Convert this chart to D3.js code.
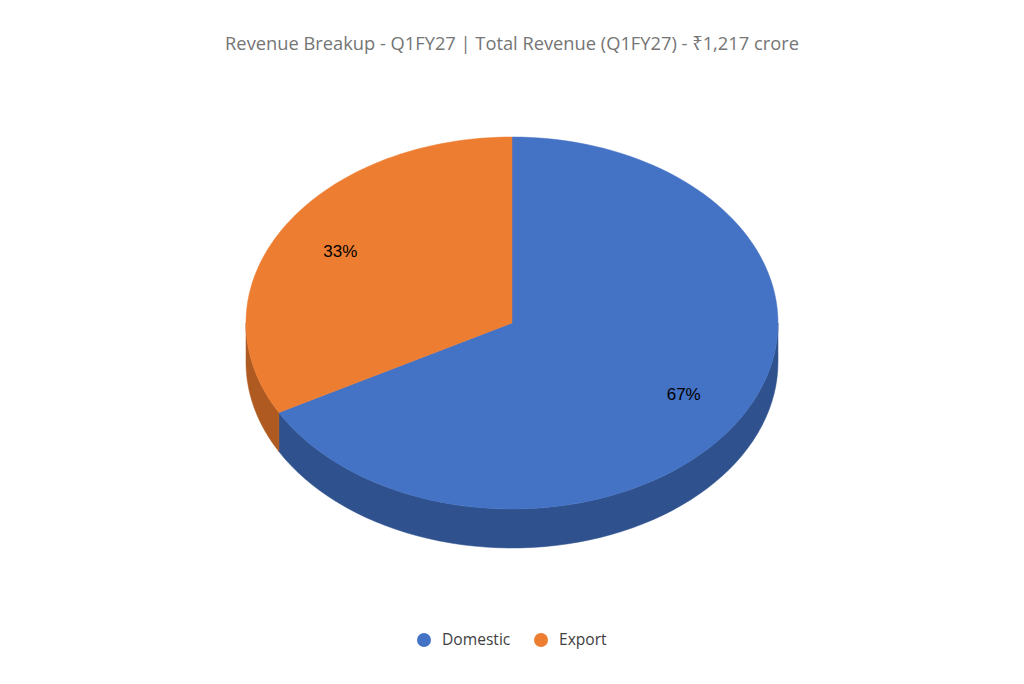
<!DOCTYPE html>
<html>
<head>
<meta charset="utf-8">
<script src="https://cdn.jsdelivr.net/npm/d3@7"></script>
<style>
  body { margin: 0; background: #fff; }
  svg { display: block; }
</style>
</head>
<body>
<svg id="chart" width="1024" height="684"></svg>
<script>
// data
const categories = ['Domestic', 'Export']
const shares = [67, 33]
const colors = ['#4472c4', '#ed7d31']
const sideColors = ['#2f528f', '#ae5a21']
const titleText = 'Revenue Breakup - Q1FY27 | Total Revenue (Q1FY27) - ₹1,217 crore'

const width = 1024
const height = 684

// ellipse geometry
const cx = 512
const cy = 323
const rx = 266
const ry = 186
const depth = 39

const svg = d3.select('#chart')

svg.append('rect')
  .attr('width', width)
  .attr('height', height)
  .attr('fill', '#fff')

// title
svg.append('text')
  .attr('x', width / 2)
  .attr('y', 50)
  .attr('text-anchor', 'middle')
  .attr('font-family', '"Open Sans", "Noto Sans", sans-serif')
  .attr('font-size', 18.3)
  .attr('fill', '#757575')
  .text(titleText)

// slices (angles clockwise from 12 o'clock)
const pie = d3.pie().sort(null).value((d) => d.value)
const slices = pie(categories.map((c, i) => ({ name: c, value: shares[i], i })))

// scales mapping a unit circle to the ellipse
const xScale = d3.scaleLinear([-1, 1], [cx - rx, cx + rx])
const yScale = d3.scaleLinear([-1, 1], [cy - ry, cy + ry])
const px = (a, r = 1) => xScale(Math.sin(a) * r)
const py = (a, r = 1) => yScale(-Math.cos(a) * r)

const vizGroup = svg.append('g').attr('id', 'viz')

// side walls: only the front half (PI/2 .. 3PI/2) is visible
const sideLayer = vizGroup.append('g').attr('id', 'sides')
slices.forEach((s) => {
  const a0 = Math.max(s.startAngle, Math.PI / 2)
  const a1 = Math.min(s.endAngle, (Math.PI * 3) / 2)
  if (a1 <= a0) return
  const steps = d3.range(0, 61).map((k) => a0 + ((a1 - a0) * k) / 60)
  const top = steps.map((a) => [px(a), py(a)])
  const bottom = steps.slice().reverse().map((a) => [px(a), py(a) + depth])
  sideLayer.append('path')
    .attr('d', d3.line()(top.concat(bottom)) + 'Z')
    .attr('fill', sideColors[s.data.i])
    .attr('stroke', sideColors[s.data.i])
    .attr('stroke-width', 0.5)
})

// top faces
const topLayer = vizGroup.append('g').attr('id', 'tops')
slices.forEach((s) => {
  const steps = d3.range(0, 121).map((k) => s.startAngle + ((s.endAngle - s.startAngle) * k) / 120)
  const pts = [[cx, cy]].concat(steps.map((a) => [px(a), py(a)]))
  topLayer.append('path')
    .attr('d', d3.line()(pts) + 'Z')
    .attr('fill', colors[s.data.i])
    .attr('stroke', colors[s.data.i])
    .attr('stroke-width', 0.5)
})

// labels
vizGroup.append('g')
  .attr('id', 'labels')
  .selectAll('text')
  .data(slices)
  .join('text')
  .attr('x', (d) => px((d.startAngle + d.endAngle) / 2, 0.75))
  .attr('y', (d) => py((d.startAngle + d.endAngle) / 2, 0.75))
  .attr('text-anchor', 'middle')
  .attr('dominant-baseline', 'central')
  .attr('font-family', '"Liberation Sans", Arial, sans-serif')
  .attr('font-size', 17)
  .attr('fill', '#000')
  .text((d) => d.data.value + '%')

// legend
const legend = svg.append('g').attr('id', 'legend')
const legendX = [424, 541]
categories.forEach((c, i) => {
  const g = legend.append('g').attr('transform', `translate(${legendX[i]}, 640)`)
  g.append('circle').attr('r', 7).attr('fill', colors[i])
  g.append('text')
    .attr('x', 18)
    .attr('dy', '0.35em')
    .attr('font-family', '"Open Sans", "Noto Sans", sans-serif')
    .attr('font-size', 15.6)
    .attr('fill', '#404040')
    .text(c)
})
</script>
</body>
</html>
